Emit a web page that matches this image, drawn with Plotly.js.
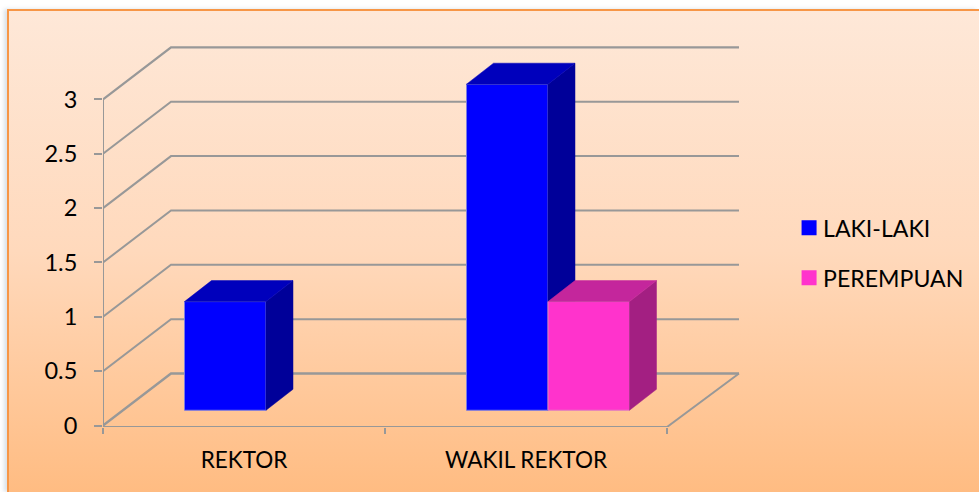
<!DOCTYPE html>
<html>
<head>
<meta charset="utf-8">
<script src="https://cdn.plot.ly/plotly-3.0.1.min.js"></script>
<style>
html,body{margin:0;padding:0;width:979px;height:492px;background:#fff;overflow:hidden}
#frame{position:absolute;left:7px;top:9px;width:972px;height:483px;box-sizing:border-box;
border-left:2px solid #F79646;border-top:2px solid #F79646;
background:linear-gradient(to bottom,#FEE8D8 0%,#FFD9BC 50%,#FFBC82 100%);
box-shadow:-3px 0 4px rgba(150,170,190,.35)}
#chart{position:absolute;left:0;top:0;width:979px;height:492px}
</style>
</head>
<body>
<div id="frame"></div>
<div id="chart"></div>
<script>
// Data
var categories = ['REKTOR', 'WAKIL REKTOR'];
var categoryPositions = [0.5, 1.5];
var lakiLaki = [1, 3];
var perempuan = [0, 1];
var yTicks = [0, 0.5, 1, 1.5, 2, 2.5, 3];
var xBoundaries = [0, 1, 2];

// Pseudo-3D projection, in axis units
var pxX = 282, pxY = 108.7;
var wallDX = 68 / pxX, wallDY = 52 / pxY, wallEnd = 2 + 72 / pxX;
var barDX = 27 / pxX, barDY = 21 / pxY;
var barBase = 0.14, barWidth = 81.5 / pxX, groupShift = 22 / pxX;
var gridColor = '#989898';
var xRange = [0, 642 / pxX];
var yRange = [-1.5 / pxY, 385.5 / pxY];

function faces(values, left) {
  var top = {x: [], y: []}, side = {x: [], y: []};
  values.forEach(function (v, i) {
    if (!v) return;
    var x0 = categoryPositions[i] + groupShift + left, x1 = x0 + barWidth, b = barBase, t = barBase + v;
    top.x.push(x0, x1, x1 + barDX, x0 + barDX, x0, null);
    top.y.push(t, t, t + barDY, t + barDY, t, null);
    side.x.push(x1, x1 + barDX, x1 + barDX, x1, x1, null);
    side.y.push(b, b + barDY, t + barDY, t, b, null);
  });
  return {top: top, side: side};
}
function bar(name, values, left, color, edge, xa, ya) {
  return {type: 'bar', name: name, x: categoryPositions.map(function (p) { return p + groupShift; }),
    y: values.map(function (v) { return v || null; }), base: values.map(function () { return barBase; }),
    offset: left, width: barWidth, marker: {color: color, line: {color: edge, width: 1}},
    showlegend: false, hoverinfo: 'skip', xaxis: xa, yaxis: ya};
}
function face(f, color, xa, ya) {
  return {type: 'scatter', mode: 'lines', x: f.x, y: f.y, fill: 'toself', fillcolor: color,
    line: {color: color, width: 0.5}, showlegend: false, hoverinfo: 'skip', xaxis: xa, yaxis: ya};
}
function key(name, color) {
  return {type: 'scatter', mode: 'markers', name: name, x: [null], y: [null], legendgroup: name,
    marker: {symbol: 'square', size: 15, color: color}, hoverinfo: 'skip'};
}

var blue = faces(lakiLaki, -barWidth), pink = faces(perempuan, 0);
var traces = [
  bar('LAKI-LAKI', lakiLaki, -barWidth, '#0000FF', '#7C7CE0', 'x', 'y'),
  face(blue.side, '#000099', 'x', 'y'),
  face(blue.top, '#0000BC', 'x', 'y'),
  bar('PEREMPUAN', perempuan, 0, '#FF33CC', '#E080C0', 'x2', 'y2'),
  face(pink.side, '#A31F82', 'x2', 'y2'),
  face(pink.top, '#C4269C', 'x2', 'y2'),
  key('LAKI-LAKI', '#0000FF'),
  key('PEREMPUAN', '#FF33CC')
];

// Wall and floor lines from the tick values
var shapes = yTicks.map(function (v) {
  return {type: 'path', xref: 'x', yref: 'y', layer: 'below',
    path: 'M0,' + v + ' L' + wallDX + ',' + (v + wallDY) + ' L' + wallEnd + ',' + (v + wallDY),
    line: {color: gridColor, width: (v === 0 || v === 3) ? 2.4 : 2}};
});
shapes.push({type: 'path', xref: 'x', yref: 'y', layer: 'below',
  path: 'M0,' + yRange[0] + ' L2,' + yRange[0] + ' L' + wallEnd + ',' + wallDY,
  line: {color: gridColor, width: 2}});
shapes.push({type: 'line', xref: 'x', yref: 'y', layer: 'below',
  x0: 0, x1: 0, y0: yRange[0], y1: 3, line: {color: gridColor, width: 2}});

var family = 'Lato, Carlito, Calibri, sans-serif';
var layout = {
  width: 979, height: 492, autosize: false,
  margin: {l: 103, r: 234, t: 40, b: 65, pad: 0},
  paper_bgcolor: 'rgba(0,0,0,0)', plot_bgcolor: 'rgba(0,0,0,0)',
  font: {family: family, size: 22, color: '#000'}, barmode: 'overlay', showlegend: true, shapes: shapes,
  xaxis: {range: xRange, tickmode: 'array', tickvals: categoryPositions, ticktext: categories,
    ticks: '', showgrid: false, zeroline: false, showline: false, ticklabelstandoff: 17,
    tickfont: {family: family, size: 22.5, color: '#000'}, fixedrange: true,
    minor: {tickmode: 'array', tickvals: xBoundaries, ticks: 'outside', ticklen: 6, tickwidth: 2, tickcolor: gridColor, showgrid: false}},
  yaxis: {range: yRange, tickmode: 'array', tickvals: yTicks, ticktext: yTicks.map(String),
    ticks: 'outside', ticklen: 8, tickwidth: 2, tickcolor: gridColor, showgrid: false, zeroline: false,
    showline: false, ticklabelstandoff: 12, tickfont: {family: family, size: 23.5, color: '#000'}, fixedrange: true},
  xaxis2: {range: xRange, overlaying: 'x', visible: false, fixedrange: true},
  yaxis2: {range: yRange, overlaying: 'y', visible: false, fixedrange: true},
  legend: {xref: 'container', yref: 'container', x: 0.806, y: 0.581, xanchor: 'left', yanchor: 'top',
    bgcolor: 'rgba(0,0,0,0)', borderwidth: 0,
    font: {family: family, size: 23.1, color: '#000'}, tracegroupgap: 17, itemwidth: 30, traceorder: 'grouped'}
};
Plotly.newPlot('chart', traces, layout, {displayModeBar: false, staticPlot: true}).then(function () {
  // tighten the gap between swatch and label
  document.querySelectorAll('.legendtext').forEach(function (t) {
    t.setAttribute('x', parseFloat(t.getAttribute('x')) - 6);
  });
});
</script>
</body>
</html>
